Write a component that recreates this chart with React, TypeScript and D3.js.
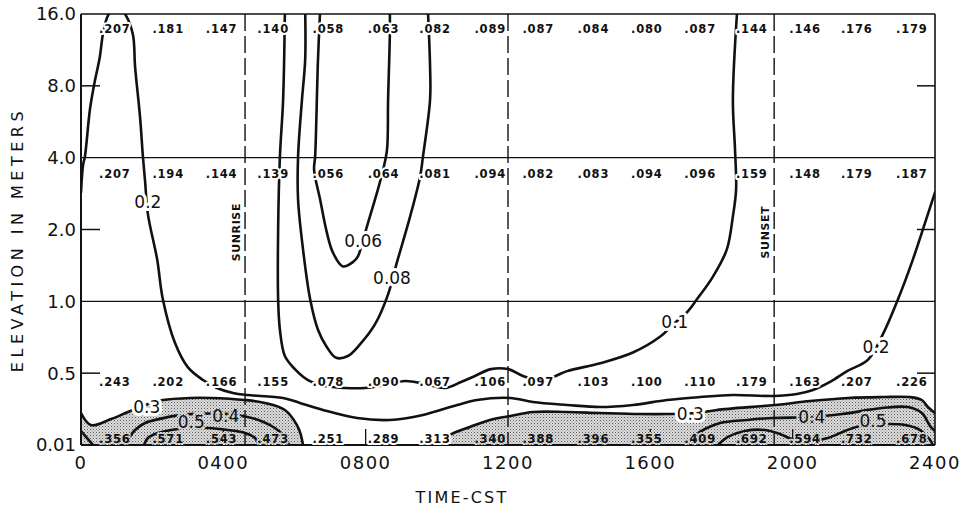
import React from 'react';
import * as d3 from 'd3';

const W = 962;
const H = 513;
const M = { left: 81, right: 935, top: 14, bottom: 445 };

// axes
const hourTicks = [0, 4, 8, 12, 16, 20, 24];
const hourLabels = ['0', '0400', '0800', '1200', '1600', '2000', '2400'];
const elevTicks = [0.01, 0.5, 1, 2, 4, 8, 16];
const elevLabels = ['0.01', '0.5', '1.0', '2.0', '4.0', '8.0', '16.0'];
const gridElevs = [1, 4];
const shortTickElevs = [0.5, 2, 8];
const bottomTickHours = [4, 8, 16, 20];

// sunrise / noon / sunset markers (hours)
const markerHours = [4.61, 12, 19.48];
const markerLabels = ['SUNRISE', '', 'SUNSET'];

// observed values, one column per sounding time
const obsHours = [0.95, 2.45, 3.95, 5.4, 6.95, 8.5, 9.95, 11.5, 12.85, 14.4, 15.9, 17.4, 18.85, 20.35, 21.8, 23.35];
const obsElevs = [16, 4, 0.5, 0.01];
const row16 = ['.207', '.181', '.147', '.140', '.058', '.063', '.082', '.089', '.087', '.084', '.080', '.087', '.144', '.146', '.176', '.179'];
const row4 = ['.207', '.194', '.144', '.139', '.056', '.064', '.081', '.094', '.082', '.083', '.094', '.096', '.159', '.148', '.179', '.187'];
const row05 = ['.243', '.202', '.166', '.155', '.078', '.090', '.067', '.106', '.097', '.103', '.100', '.110', '.179', '.163', '.207', '.226'];
const row001 = ['.356', '.571', '.543', '.473', '.251', '.289', '.313', '.340', '.388', '.396', '.355', '.409', '.692', '.594', '.732', '.678'];

// contour lines: [hour, elevation m]
const c02 = [[0, 2.86], [0.06, 3.74], [0.11, 4.04], [0.25, 6.35], [0.37, 8.1], [0.53, 10.6], [0.62, 13.3], [0.76, 15.8], [1.0, 17.4], [1.26, 15.8], [1.46, 13.1], [1.52, 9.6], [1.66, 5.9], [1.74, 4.04], [1.8, 3.2], [1.88, 2.32], [2.14, 1.5], [2.3, 1.02], [2.64, 0.67], [3.0, 0.53], [3.43, 0.453], [3.82, 0.399], [4.27, 0.365], [4.67, 0.351], [5.68, 0.331], [6.15, 0.297], [6.8, 0.249], [7.76, 0.194], [8.68, 0.181], [9.61, 0.215], [10.57, 0.283], [11.13, 0.317], [12.06, 0.331], [12.7, 0.303], [13.66, 0.283], [14.59, 0.269], [15.51, 0.283], [16.47, 0.317], [17.4, 0.337], [18.32, 0.351], [19.45, 0.344], [20.12, 0.358], [20.57, 0.385], [21.05, 0.44], [21.53, 0.51], [22.12, 0.57], [22.54, 0.73], [22.96, 1.02], [23.38, 1.5], [23.78, 2.27], [24, 2.86]];
const c03a = [[0, 0.228], [0.28, 0.146], [0.84, 0.187], [1.32, 0.235], [1.88, 0.29], [2.3, 0.317], [3.06, 0.331], [3.65, 0.331], [4.61, 0.317], [5.17, 0.297], [5.73, 0.249], [6.07, 0.146], [6.18, 0.078], [6.24, 0.01]];
const c04a = [[1.26, 0.01], [1.35, 0.058], [1.52, 0.112], [1.8, 0.16], [2.25, 0.19], [2.73, 0.212], [3.2, 0.222], [4.05, 0.222], [4.61, 0.205], [5.06, 0.174], [5.45, 0.126], [5.73, 0.065], [5.85, 0.01]];
const c04corner = [[0, 0.105], [0.14, 0.065], [0.34, 0.01]];
const c05a = [[1.77, 0.01], [1.88, 0.058], [2.16, 0.092], [2.53, 0.112], [3.01, 0.126], [3.57, 0.126], [4.13, 0.112], [4.61, 0.092], [4.89, 0.058], [5.0, 0.01]];
const c03b = [[10.09, 0.01], [10.37, 0.078], [10.93, 0.133], [11.49, 0.181], [12.06, 0.208], [12.7, 0.235], [13.66, 0.235], [14.59, 0.228], [15.71, 0.221], [16.47, 0.221], [17.31, 0.228], [17.87, 0.249], [19.5, 0.283], [20.49, 0.31], [21.56, 0.331], [22.51, 0.337], [23.3, 0.337], [23.63, 0.317], [23.8, 0.269], [24, 0.228]];
const c04b = [[17.0, 0.01], [17.31, 0.085], [17.59, 0.126], [17.96, 0.16], [18.72, 0.181], [19.45, 0.194], [20.57, 0.201], [21.39, 0.221], [22.51, 0.262], [23.24, 0.269], [23.63, 0.228], [23.86, 0.14], [24, 0.105]];
const c05b = [[17.9, 0.01], [18.18, 0.065], [18.66, 0.106], [19.22, 0.112], [19.64, 0.085], [19.98, 0.051], [20.49, 0.037], [20.99, 0.058], [21.47, 0.106], [21.89, 0.14], [22.6, 0.153], [23.16, 0.146], [23.58, 0.112], [23.86, 0.044], [23.94, 0.01]];
const c01 = [[5.73, 16.5], [5.68, 7.0], [5.59, 4.04], [5.54, 2.0], [5.54, 1.02], [5.59, 0.76], [5.73, 0.59], [6.01, 0.52], [6.38, 0.453], [6.86, 0.412], [7.42, 0.399], [7.98, 0.399], [8.54, 0.419], [9.11, 0.447], [9.67, 0.426], [10.23, 0.399], [10.68, 0.44], [11.07, 0.481], [11.52, 0.52], [12.0, 0.52], [12.42, 0.481], [12.84, 0.453], [13.26, 0.474], [13.66, 0.51], [14.59, 0.55], [15.51, 0.61], [16.27, 0.71], [16.64, 0.8], [17.03, 0.9], [17.31, 1.02], [17.76, 1.27], [18.15, 1.65], [18.32, 2.27], [18.41, 2.94], [18.38, 4.32], [18.32, 7.0], [18.44, 16.5]];
const c008 = [[6.3, 16.5], [6.3, 10.3], [6.21, 7.0], [6.1, 4.04], [6.1, 2.67], [6.24, 1.65], [6.44, 1.02], [6.66, 0.76], [6.89, 0.65], [7.17, 0.58], [7.5, 0.59], [7.84, 0.66], [8.26, 0.8], [8.63, 1.07], [8.88, 1.46], [9.25, 2.27], [9.53, 3.33], [9.61, 4.04], [9.81, 7.0], [9.81, 9.6], [9.75, 16.5]];
const c006 = [[6.72, 16.5], [6.66, 10.3], [6.58, 4.04], [6.55, 3.56], [6.72, 2.67], [6.91, 1.94], [7.08, 1.6], [7.36, 1.4], [7.64, 1.46], [7.78, 1.54], [7.93, 1.82], [8.07, 2.14], [8.32, 2.86], [8.49, 3.56], [8.6, 4.32], [8.63, 7.0], [8.68, 13.3], [8.68, 16.5]];
const contours = [c02, c03a, c04a, c04corner, c05a, c03b, c04b, c05b, c01, c008, c006];

// contour labels: text, hour, elevation
const levelTexts = ['0.2', '0.06', '0.08', '0.1', '0.2', '0.3', '0.4', '0.5', '0.3', '0.4', '0.5'];
const levelHours = [1.88, 7.93, 8.74, 16.69, 22.34, 1.85, 4.07, 3.1, 17.12, 20.54, 22.26];
const levelElevs = [2.6, 1.8, 1.26, 0.82, 0.645, 0.269, 0.212, 0.17, 0.221, 0.201, 0.177];

const elevToT = (e: number) => (e >= 0.5 ? 1 + Math.log2(e / 0.5) : (e - 0.01) / 0.49);
const tScale = d3.scaleLinear().domain([0, 6]).range([M.bottom, M.top]);
const y = (e: number) => tScale(elevToT(e));
const x = d3.scaleLinear().domain([0, 24]).range([M.left, M.right]);

const curve = d3.curveCatmullRom.alpha(0.5);
const line = d3.line<number[]>().x(d => x(d[0])).y(d => y(d[1])).curve(curve);
const area = d3.area<number[]>().x(d => x(d[0])).y0(M.bottom).y1(d => y(d[1])).curve(curve);

const FONT = '"DejaVu Sans", Verdana, sans-serif';
const shadeLeftEnd = c03a[c03a.length - 1][0];
const shadeRightStart = c03b[0][0];

const App = () => {
  const rows = [row16, row4, row05, row001];
  const rowDy = [19, 20, 13, -2];
  return (
    <svg width={W} height={H} style={{ position: 'absolute', left: 0, top: 0, background: '#fff' }}>
      <defs>
        <pattern id="stipple" width={3} height={3} patternUnits="userSpaceOnUse">
          <rect width={3} height={3} fill="#dcdcdc" />
          <rect x={0} y={0} width={1} height={1} fill="#5a5a5a" />
          <rect x={1.5} y={1.5} width={1} height={1} fill="#8a8a8a" />
        </pattern>
        <clipPath id="plot">
          <rect x={M.left} y={M.top} width={M.right - M.left} height={M.bottom - M.top} />
        </clipPath>
      </defs>

      <g clipPath="url(#plot)">
        <path d={area(c03a) || ''} fill="url(#stipple)" />
        <path d={area(c03b) || ''} fill="url(#stipple)" />
      </g>

      {gridElevs.map(e => (
        <line key={e} x1={M.left} x2={M.right} y1={y(e)} y2={y(e)} stroke="#111" strokeWidth={1.4} />
      ))}
      {shortTickElevs.map(e => (
        <g key={e}>
          <line x1={M.left} x2={M.left + 19} y1={y(e)} y2={y(e)} stroke="#111" strokeWidth={1.5} />
          <line x1={M.right - 18} x2={M.right} y1={y(e)} y2={y(e)} stroke="#111" strokeWidth={1.5} />
        </g>
      ))}
      {bottomTickHours.map(h => (
        <line key={h} x1={x(h)} x2={x(h)} y1={M.bottom} y2={M.bottom - 16} stroke="#111" strokeWidth={1.3} />
      ))}
      {markerHours.map(h => (
        <line key={h} x1={x(h)} x2={x(h)} y1={M.top} y2={M.bottom} stroke="#111" strokeWidth={1.4} strokeDasharray="17,5" />
      ))}
      {markerHours.map((h, i) =>
        markerLabels[i] ? (
          <text key={'m' + i} transform={`translate(${x(h) - 9},${y(1.95)}) rotate(-90)`} textAnchor="middle" dy="0.35em"
            fontFamily={FONT} fontWeight="bold" fontSize={11} letterSpacing={0.6} fill="#111">
            {markerLabels[i]}
          </text>
        ) : null
      )}

      <g clipPath="url(#plot)">
        {contours.map((c, i) => (
          <path key={i} d={line(c) || ''} fill="none" stroke="#111" strokeWidth={2.6} strokeLinecap="round" />
        ))}
      </g>

      <line x1={M.left} x2={M.left} y1={M.top} y2={M.bottom} stroke="#111" strokeWidth={2} />
      <line x1={M.left} x2={M.right} y1={M.bottom} y2={M.bottom} stroke="#111" strokeWidth={2.2} />
      <line x1={M.left} x2={M.right} y1={M.top} y2={M.top} stroke="#111" strokeWidth={1.6} />
      <line x1={M.right} x2={M.right} y1={M.top} y2={M.bottom} stroke="#111" strokeWidth={1.6} />

      {rows.map((row, r) =>
        row.map((v, i) => {
          const shaded = r === 3 && (obsHours[i] < shadeLeftEnd || obsHours[i] > shadeRightStart);
          return (
            <text key={r + '-' + i} x={x(obsHours[i])} y={y(obsElevs[r]) + rowDy[r]} textAnchor="middle"
              fontFamily={FONT} fontWeight="bold" fontSize={11.5} letterSpacing={0.8} fill="#111"
              stroke={shaded ? 'url(#stipple)' : '#fff'} strokeWidth={4} strokeLinejoin="round" paintOrder="stroke">
              {v}
            </text>
          );
        })
      )}

      {levelTexts.map((t, i) => (
        <text key={'l' + i} x={x(levelHours[i])} y={y(levelElevs[i])} dy="0.36em" textAnchor="middle"
          fontFamily={FONT} fontSize={17} fill="#111"
          stroke={parseFloat(t) >= 0.4 ? 'url(#stipple)' : '#fff'} strokeWidth={6} strokeLinejoin="round" paintOrder="stroke">
          {t}
        </text>
      ))}

      {elevTicks.map((e, i) => (
        <text key={'y' + i} x={M.left - 5} y={y(e)} dy="0.36em" textAnchor="end" fontFamily={FONT} fontSize={18} fill="#111">
          {elevLabels[i]}
        </text>
      ))}
      {hourTicks.map((h, i) => (
        <text key={'x' + i} x={x(h)} y={M.bottom + 24} textAnchor="middle" fontFamily={FONT} fontSize={18} letterSpacing={1.5} fill="#111">
          {hourLabels[i]}
        </text>
      ))}
      <text x={462} y={503} textAnchor="middle" fontFamily={FONT} fontSize={16} letterSpacing={2.2} fill="#111">TIME-CST</text>
      <text transform={`translate(17,${(M.top + M.bottom) / 2 + 10}) rotate(-90)`} textAnchor="middle" dy="0.35em"
        fontFamily={FONT} fontSize={16} letterSpacing={4.5} fill="#111">
        ELEVATION IN METERS
      </text>
    </svg>
  );
};

export default App;
